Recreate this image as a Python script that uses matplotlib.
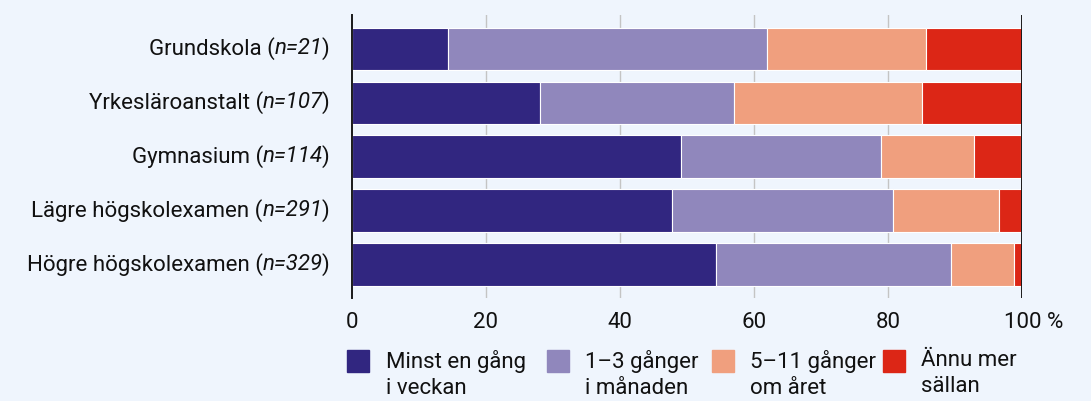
import matplotlib.pyplot as plt
from matplotlib.patches import Rectangle
import numpy as np

# --------------------------------------------------------------------------
# Data (percent of respondents per education level)
# --------------------------------------------------------------------------
groups = ["Grundskola", "Yrkesläroanstalt", "Gymnasium",
          "Lägre högskolexamen", "Högre högskolexamen"]
n_values = [21, 107, 114, 291, 329]

weekly = [14.3, 28.0, 49.1, 47.8, 54.4]
monthly = [47.6, 29.0, 29.8, 33.0, 35.0]
yearly = [23.8, 28.0, 14.0, 15.8, 9.4]
rarer = [14.3, 15.0, 7.0, 3.4, 1.2]

series = [weekly, monthly, yearly, rarer]
series_labels = ["Minst en gång\ni veckan", "1–3 gånger\ni månaden",
                 "5–11 gånger\nom året", "Ännu mer\nsällan"]
colors = ["#312680", "#9087bc", "#f09f7e", "#dc2616"]

x_ticks = [0, 20, 40, 60, 80, 100]

# --------------------------------------------------------------------------
# Figure
# --------------------------------------------------------------------------
plt.rcParams['font.family'] = ['Roboto', 'DejaVu Sans']
bg = "#eff5fd"
fs = 16
txt_col = "#111111"

fig = plt.figure(figsize=(10.91, 4.01), dpi=100, facecolor=bg)
ax = fig.add_axes([352 / 1091, 1 - 298 / 401, 670 / 1091, 283 / 401])
ax.set_facecolor(bg)

y = np.arange(len(groups))
left = np.zeros(len(groups))
for vals, col in zip(series, colors):
    ax.barh(y, vals, left=left, height=0.79, color=col,
            edgecolor="white", linewidth=0.8, zorder=2)
    left += np.array(vals)

ax.set_xlim(0, 100)
ax.set_ylim(4.62, -0.63)

# vertical grid lines, dark lines at 0 and 100
for t in x_ticks[1:-1]:
    ax.axvline(t, color="#c4c4c4", linewidth=1, zorder=0)
ax.axvline(100, color="#1a1a1a", linewidth=1.4, zorder=3)

for s in ["top", "right", "bottom"]:
    ax.spines[s].set_visible(False)
ax.spines["left"].set_color("#1a1a1a")
ax.spines["left"].set_linewidth(1.4)
ax.spines["left"].set_zorder(4)

# y labels: built from three pieces so that only "n=..." is italic
ax.set_yticks(y)
ax.set_yticklabels([""] * len(groups))
ax.tick_params(axis="y", length=0)
pad = 16.5
w_close = 4.5
for yi, g, n in zip(y, groups, n_values):
    ax.annotate(")", xy=(0, yi), xycoords=("axes fraction", "data"),
                xytext=(-pad, 0), textcoords="offset points",
                ha="right", va="center", fontsize=fs, color=txt_col)
    t_n = ax.annotate(f"n={n}", xy=(0, yi), xycoords=("axes fraction", "data"),
                      xytext=(-pad - w_close, 0), textcoords="offset points",
                      ha="right", va="center", fontsize=fs, style="italic",
                      color=txt_col)
    fig.canvas.draw()
    w_n = t_n.get_window_extent().width * 72 / fig.dpi
    ax.annotate(f"{g} (", xy=(0, yi), xycoords=("axes fraction", "data"),
                xytext=(-pad - w_close - w_n, 0), textcoords="offset points",
                ha="right", va="center", fontsize=fs, color=txt_col)

ax.set_xticks(x_ticks)
ax.set_xticklabels([str(t) for t in x_ticks[:-1]] + [""])
ax.tick_params(axis="x", length=0, pad=10, labelsize=fs, labelcolor=txt_col)
ax.annotate("100 %", xy=(100, 0), xycoords=("data", "axes fraction"),
            xytext=(-13, -10), textcoords="offset points",
            ha="left", va="top", fontsize=fs, color=txt_col)

# legend drawn in figure pixels
sq_x = [347, 547, 712, 883]
txt_x = [386, 585, 750, 921]
W, H = 1091, 401
for sx, tx, lab, col in zip(sq_x, txt_x, series_labels, colors):
    fig.patches.append(Rectangle((sx / W, 1 - 372 / H), 22 / W, 22 / H,
                                 transform=fig.transFigure, color=col))
    fig.text(tx / W, 1 - 350 / H, lab, ha="left", va="top", fontsize=fs,
             color=txt_col, linespacing=1.3)

fig.savefig("out.png", dpi=100, facecolor=bg)
